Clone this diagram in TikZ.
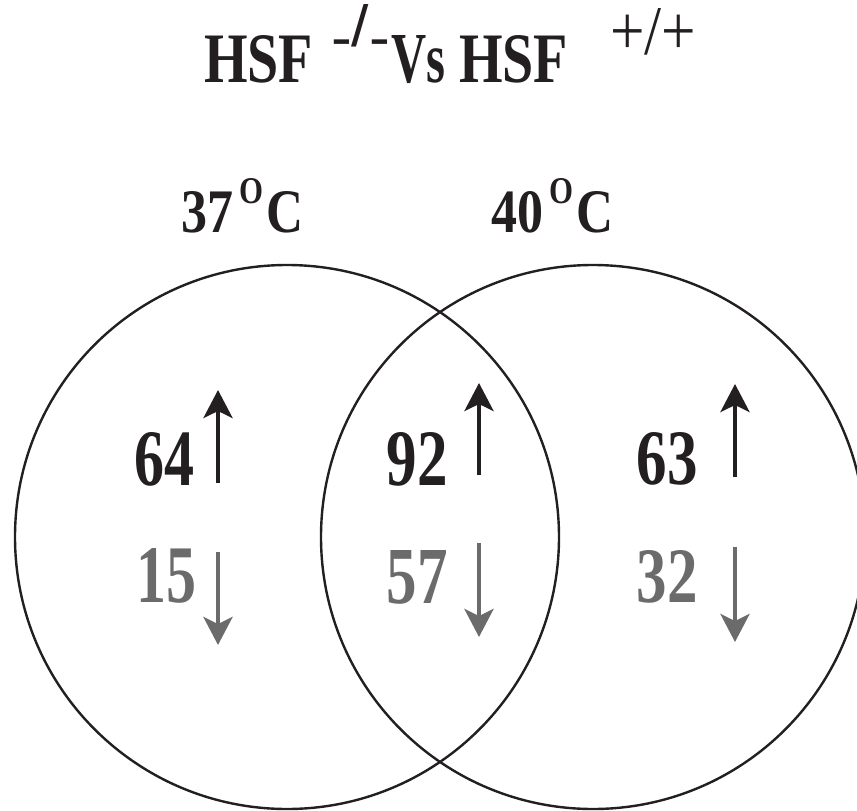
\documentclass[tikz,border=0pt]{standalone}
\usepackage{fontspec}
\usepackage{graphicx}
\usetikzlibrary{arrows.meta}
\newfontfamily\tnr{Liberation Serif}
\newfontfamily\arl{Liberation Sans}
\definecolor{ink}{HTML}{231F20}
\definecolor{grayink}{HTML}{6B6B6B}
\newcommand\fitbox[3]{\resizebox{#1}{#2}{#3}}
\tikzset{
  txt/.style={inner sep=0pt, outer sep=0pt, text=ink},
  bignum/.style={txt, anchor=base, font=\tnr\bfseries\fontsize{60}{60}\selectfont},
  upnum/.style={bignum, text=ink},
  downnum/.style={bignum, text=grayink},
  uparrow/.style={draw=ink, line width=4.5pt, -{Stealth[length=28pt,width=29pt,inset=7pt]}},
  downarrow/.style={draw=grayink, line width=4.5pt, -{Stealth[length=28pt,width=29pt,inset=7pt]}},
  venn/.style={draw=ink, line width=2.4pt},
  titlefont/.style={txt, anchor=base west, font=\tnr\bfseries\fontsize{60}{60}\selectfont},
  supfont/.style={txt, anchor=base west, font=\arl\fontsize{56}{56}\selectfont},
  supserif/.style={txt, anchor=base west, font=\tnr\fontsize{56}{56}\selectfont},
  tempfont/.style={txt, anchor=base west, font=\tnr\bfseries\fontsize{56}{56}\selectfont},
}
\begin{document}
\begin{tikzpicture}[x=1pt,y=-1pt]
\useasboundingbox (0,0) rectangle (857,811);
% circles
\draw[venn] (287,537) circle[radius=272pt];
\draw[venn] (593,537) circle[radius=272pt];
% title
\node[titlefont] (hsf1) at (204,82) {\fitbox{109pt}{47pt}{HSF}};
\node[supfont] (supm) at (331,46) {\fitbox{59pt}{42pt}{\raisebox{-0.2em}{-}/\raisebox{-0.2em}{-}}};
\node[titlefont] (vs) at (391,82) {\fitbox{54pt}{47pt}{Vs}};
\node[titlefont] (hsf2) at (459,82) {\fitbox{109pt}{47pt}{HSF}};
\node[supserif] (supp) at (610,54) {\fitbox{86pt}{46pt}{+/+}};
% temperatures
\node[tempfont] (t37) at (181,232) {\fitbox{52pt}{41pt}{37}};
\node[tempfont] (d37) at (239,203) {\fitbox{24pt}{25pt}{O}};
\node[tempfont] (c37) at (266,232) {\fitbox{37pt}{41pt}{C}};
\node[tempfont] (t40) at (491,232) {\fitbox{52pt}{41pt}{40}};
\node[tempfont] (d40) at (549,203) {\fitbox{24pt}{25pt}{O}};
\node[tempfont] (c40) at (576,232) {\fitbox{37pt}{41pt}{C}};
% numbers
\node[upnum] (n64) at (164,485) {\fitbox{60pt}{53pt}{64}};
\node[downnum] (n15) at (166,602) {\fitbox{60pt}{54pt}{15}};
\node[upnum] (n92) at (417,485) {\fitbox{61pt}{53pt}{92}};
\node[downnum] (n57) at (417,603) {\fitbox{61pt}{53pt}{57}};
\node[upnum] (n63) at (667,484) {\fitbox{61pt}{52pt}{63}};
\node[downnum] (n32) at (667,602) {\fitbox{61pt}{52pt}{32}};
% arrows
\coordinate (a1s) at (218,483); \coordinate (a1e) at (218,390);
\coordinate (b1s) at (218,552); \coordinate (b1e) at (218,645);
\coordinate (a2s) at (479,475); \coordinate (a2e) at (479,383);
\coordinate (b2s) at (479,543); \coordinate (b2e) at (479,637);
\coordinate (a3s) at (735,477); \coordinate (a3e) at (735,384);
\coordinate (b3s) at (735,547); \coordinate (b3e) at (735,642);
\draw[uparrow] (a1s) -- (a1e);
\draw[downarrow] (b1s) -- (b1e);
\draw[uparrow] (a2s) -- (a2e);
\draw[downarrow] (b2s) -- (b2e);
\draw[uparrow] (a3s) -- (a3e);
\draw[downarrow] (b3s) -- (b3e);
\end{tikzpicture}
\end{document}
